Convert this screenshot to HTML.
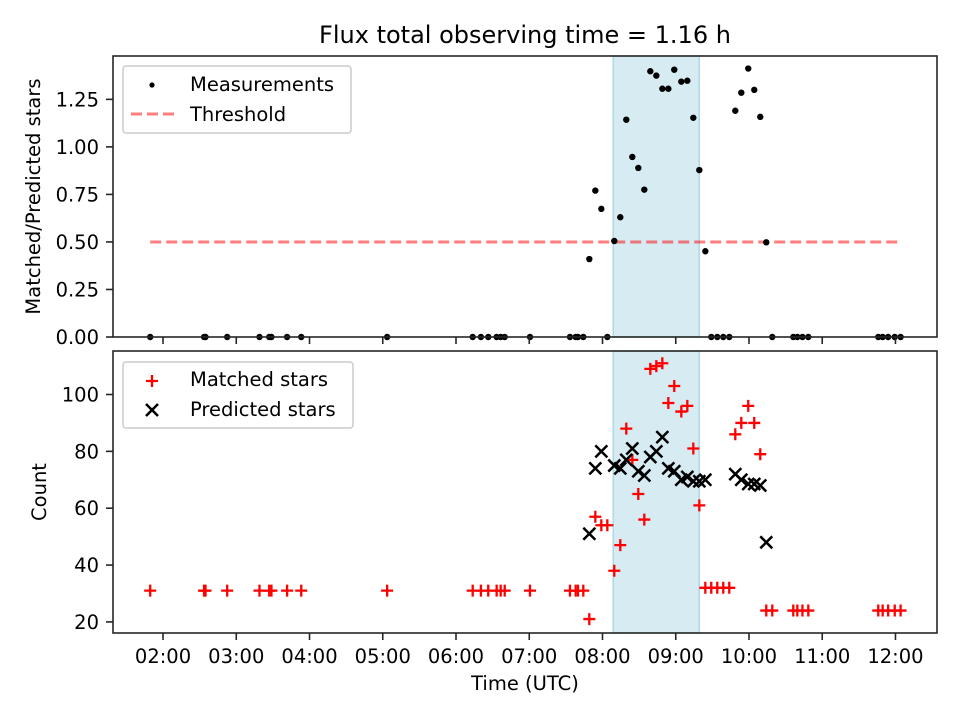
<!DOCTYPE html>
<html><head><meta charset="utf-8"><style>
body{margin:0;background:#fff}
svg{display:block;font-family:"DejaVu Sans","Liberation Sans",sans-serif}
</style></head><body>
<svg id="chart" width="960" height="720" viewBox="0 0 960 720"></svg>
<script>
// ---- data ----
const ratioTimes = [1.825,2.56,2.58,2.876,3.317,3.45,3.48,3.694,3.887,5.06,6.228,6.34,6.44,6.555,6.61,6.665,7.01,7.556,7.634,7.665,7.738,7.82,7.902,7.984,8.066,8.161,8.243,8.325,8.407,8.489,8.571,8.653,8.735,8.817,8.899,8.98,9.076,9.158,9.24,9.322,9.404,9.485,9.567,9.649,9.731,9.813,9.895,9.99,10.072,10.154,10.236,10.318,10.605,10.66,10.73,10.81,11.765,11.825,11.90,11.99,12.07];
const ratioValues = [0,0,0,0,0,0,0,0,0,0,0,0,0,0,0,0,0,0,0,0,0,0.41,0.77,0.674,0,0.505,0.63,1.143,0.947,0.889,0.775,1.398,1.375,1.306,1.306,1.406,1.343,1.348,1.153,0.878,0.451,0,0,0,0,1.19,1.285,1.412,1.30,1.158,0.498,0,0,0,0,0,0,0,0,0,0];
const matchedValues = [31,31,31,31,31,31,31,31,31,31,31,31,31,31,31,31,31,31,31,31,31,21,57,54,54,38,47,88,77,65,56,109,110,111,97,103,94,96,81,61,32,32,32,32,32,86,90,96,90,79,24,24,24,24,24,24,24,24,24,24,24];
const predTimes = [7.82,7.902,7.984,8.161,8.243,8.325,8.407,8.489,8.571,8.653,8.735,8.817,8.899,8.98,9.076,9.158,9.24,9.322,9.404,9.813,9.895,9.99,10.072,10.154,10.236];
const predValues = [51,74,80,75,74,77,81,73,71.5,78,80,85,74,73,70,71,69.5,69.5,70,72,70,68.5,68.5,68,48];
const xTicks = [2,3,4,5,6,7,8,9,10,11,12];
const xTickLabels = ["02:00","03:00","04:00","05:00","06:00","07:00","08:00","09:00","10:00","11:00","12:00"];
const topTicks = [0,0.25,0.5,0.75,1.0,1.25];
const topTickLabels = ["0.00","0.25","0.50","0.75","1.00","1.25"];
const botTicks = [20,40,60,80,100];
const threshold = 0.5;
const thresholdRange = [1.825,12.08];
const shadeRange = [8.147,9.32];

// ---- scales ----
const L=113,R=937;
const tMin=1.317, tMax=12.567;
const xS=t=>L+(t-tMin)/(tMax-tMin)*(R-L);
const T0=56,T1=337, topMax=1.478;
const yTop=v=>T1-v/topMax*(T1-T0);
const B0=351,B1=633, bMin=16.1, bMax=115.3;
const yBot=v=>B1-(v-bMin)/(bMax-bMin)*(B1-B0);
const FS='19.5';

const svg=document.getElementById('chart');
const NS='http://www.w3.org/2000/svg';
function mk(tag,attrs,parent){const e=document.createElementNS(NS,tag);for(const k in attrs)e.setAttribute(k,attrs[k]);(parent||svg).appendChild(e);return e;}
function txt(s,attrs,parent){const e=mk('text',attrs,parent);e.textContent=s;return e;}

const title=txt('Flux total observing time = 1.16 h',{x:525,y:43,'text-anchor':'middle','font-size':'24'});



function panel(name,y0,y1){
  const g=mk('g',{});
  
  
  const sh=mk('rect',{x:xS(shadeRange[0]),y:y0,width:xS(shadeRange[1])-xS(shadeRange[0]),height:y1-y0,fill:'#add8e6','fill-opacity':0.5,stroke:'#add8e6','stroke-width':1.5},g);
  
  
  return g;
}
function frame(g,y0,y1){
  const f=mk('rect',{x:L,y:y0,width:R-L,height:y1-y0,fill:'none',stroke:'#262626','stroke-width':1.6},g);
  
  
}
function xticks(g,y1,labels){
  xTicks.forEach((t,i)=>{
    const x=xS(t);
    mk('line',{x1:x,x2:x,y1:y1,y2:y1+7,stroke:'#262626','stroke-width':1.6},g);
    if(labels){const l=txt(xTickLabels[i],{x:x,y:y1+30,'text-anchor':'middle','font-size':FS},g);
      
      }
  });
}
function plus(g,x,y){const p=mk('path',{d:`M${x-6},${y}H${x+6}M${x},${y-6}V${y+6}`,stroke:'#ff0000','stroke-width':2.3},g);
  
  }
function cross(g,x,y){const p=mk('path',{d:`M${x-6},${y-6}L${x+6},${y+6}M${x-6},${y+6}L${x+6},${y-6}`,stroke:'#000','stroke-width':2.5},g);
  
  }

// ---- top panel ----
const gt=panel('ratio-panel',T0,T1);
const th=mk('line',{x1:xS(thresholdRange[0]),x2:xS(thresholdRange[1]),y1:yTop(threshold),y2:yTop(threshold),stroke:'#ff0000','stroke-opacity':0.5,'stroke-width':3,'stroke-dasharray':'11,5'},gt);


ratioTimes.forEach((t,i)=>{
  const c=mk('circle',{cx:xS(t),cy:yTop(ratioValues[i]),r:3.2,fill:'#000'},gt);
  
  
});
frame(gt,T0,T1);
xticks(gt,T1,false);
topTicks.forEach((v,i)=>{
  const y=yTop(v);
  mk('line',{x1:L-7,x2:L,y1:y,y2:y,stroke:'#262626','stroke-width':1.6},gt);
  const l=txt(topTickLabels[i],{x:L-14,y:y+7,'text-anchor':'end','font-size':FS},gt);
  
  
});
const yt1=txt('Matched/Predicted stars',{x:0,y:0,'text-anchor':'middle','font-size':FS,transform:`translate(40,${(T0+T1)/2}) rotate(-90)`},gt);


const lg1=mk('g',{},gt);


mk('rect',{x:123,y:66,width:228,height:67,rx:3,fill:'#fff','fill-opacity':0.8,stroke:'#cccccc','stroke-width':1.5},lg1);
mk('circle',{cx:152,cy:85,r:2.6,fill:'#000'},lg1);
txt('Measurements',{x:190,y:91,'font-size':FS},lg1);
mk('line',{x1:131,x2:174,y1:114,y2:114,stroke:'#ff0000','stroke-opacity':0.5,'stroke-width':3,'stroke-dasharray':'11,5'},lg1);
txt('Threshold',{x:190,y:121,'font-size':FS},lg1);

// ---- bottom panel ----
const gb=panel('count-panel',B0,B1);
ratioTimes.forEach((t,i)=>plus(gb,xS(t),yBot(matchedValues[i])));
predTimes.forEach((t,i)=>cross(gb,xS(t),yBot(predValues[i])));
frame(gb,B0,B1);
xticks(gb,B1,true);
botTicks.forEach(v=>{
  const y=yBot(v);
  mk('line',{x1:L-7,x2:L,y1:y,y2:y,stroke:'#262626','stroke-width':1.6},gb);
  const l=txt(String(v),{x:L-14,y:y+7,'text-anchor':'end','font-size':FS},gb);
  
  
});
const yt2=txt('Count',{x:0,y:0,'text-anchor':'middle','font-size':FS,transform:`translate(46,${(B0+B1)/2}) rotate(-90)`},gb);


const xt=txt('Time (UTC)',{x:525,y:690,'text-anchor':'middle','font-size':FS},gb);


const lg2=mk('g',{},gb);


mk('rect',{x:123,y:362,width:230,height:66,rx:3,fill:'#fff','fill-opacity':0.8,stroke:'#cccccc','stroke-width':1.5},lg2);
mk('path',{d:'M146,381H158M152,375V387',stroke:'#ff0000','stroke-width':2.3},lg2);
txt('Matched stars',{x:190,y:386,'font-size':FS},lg2);
mk('path',{d:'M146,404L158,416M146,416L158,404',stroke:'#000','stroke-width':2.5},lg2);
txt('Predicted stars',{x:190,y:416,'font-size':FS},lg2);
</script>
</body></html>
